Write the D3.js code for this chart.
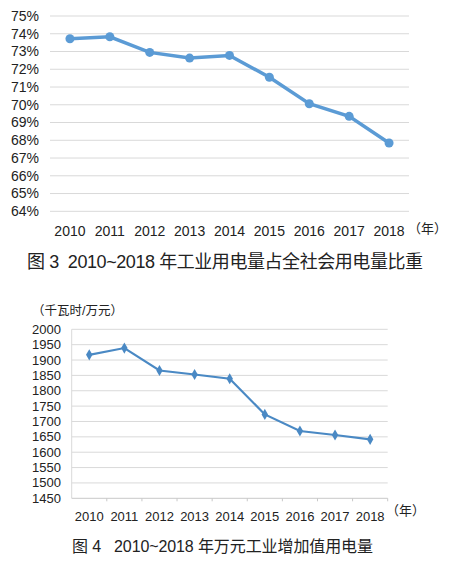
<!DOCTYPE html>
<html>
<head>
<meta charset="utf-8">
<script src="https://cdn.jsdelivr.net/npm/d3@7"></script>
<style>
  body { margin: 0; background: #fff; }
  text { font-family: "Liberation Sans", Arial, "Noto Sans CJK SC", sans-serif; fill: #222; }
  .cjk { font-family: "Liberation Sans", "Noto Sans CJK SC", sans-serif; white-space: pre; }
</style>
</head>
<body>
<svg id="chart" width="465" height="566"></svg>
<script>
// years shared by both charts
var years = ["2010", "2011", "2012", "2013", "2014", "2015", "2016", "2017", "2018"];

// fig 3: industrial share of total electricity use, %
var shareValues = [73.72, 73.83, 72.95, 72.63, 72.78, 71.55, 70.06, 69.35, 67.85];
var shareTicks = [64, 65, 66, 67, 68, 69, 70, 71, 72, 73, 74, 75];

// fig 4: kWh per 10k yuan industrial value added
var intensityValues = [1917, 1939, 1866, 1853, 1839, 1723, 1669, 1656, 1642];
var intensityTicks = [1450, 1500, 1550, 1600, 1650, 1700, 1750, 1800, 1850, 1900, 1950, 2000];

var svg = d3.select("#chart");
var gridColor = "#d9d9d9";

// ---------- chart 1 ----------
var x1 = d3.scaleBand().domain(years).range([50, 409]);
var y1 = d3.scaleLinear().domain([64, 75]).range([211.3, 16]);

var g1 = svg.append("g");

g1.selectAll("line.grid")
    .data(shareTicks)
    .enter().append("line")
    .attr("class", "grid")
    .attr("x1", 50).attr("x2", 409)
    .attr("y1", function(d) { return y1(d); })
    .attr("y2", function(d) { return y1(d); })
    .attr("stroke", gridColor).attr("stroke-width", 1);

g1.selectAll("text.ylab")
    .data(shareTicks)
    .enter().append("text")
    .attr("class", "ylab")
    .attr("x", 39)
    .attr("y", function(d) { return y1(d); })
    .attr("dy", "0.35em")
    .attr("text-anchor", "end")
    .attr("font-size", 14)
    .text(function(d) { return d + "%"; });

g1.selectAll("text.xlab")
    .data(years)
    .enter().append("text")
    .attr("class", "xlab")
    .attr("x", function(d) { return x1(d) + x1.bandwidth() / 2; })
    .attr("y", 231)
    .attr("dy", "0.35em")
    .attr("text-anchor", "middle")
    .attr("font-size", 14)
    .text(function(d) { return d; });

g1.append("text")
    .attr("class", "cjk")
    .attr("x", 408).attr("y", 228).attr("dy", "0.35em")
    .attr("font-size", 13)
    .text("（年）");

var line1 = d3.line()
    .x(function(d, i) { return x1(years[i]) + x1.bandwidth() / 2; })
    .y(function(d) { return y1(d); });

g1.append("path")
    .datum(shareValues)
    .attr("d", line1)
    .attr("fill", "none")
    .attr("stroke", "#5b9bd5")
    .attr("stroke-width", 3.5);

g1.selectAll("circle")
    .data(shareValues)
    .enter().append("circle")
    .attr("cx", function(d, i) { return x1(years[i]) + x1.bandwidth() / 2; })
    .attr("cy", function(d) { return y1(d); })
    .attr("r", 4.5)
    .attr("fill", "#5b9bd5");

g1.append("text")
    .attr("class", "cjk")
    .attr("x", 27).attr("y", 262).attr("dy", "0.35em")
    .attr("font-size", 18)
    .attr("fill", "#333")
    .attr("textLength", 396)
    .attr("lengthAdjust", "spacing")
    .text("图 3  2010~2018 年工业用电量占全社会用电量比重");

// ---------- chart 2 ----------
var x2 = d3.scaleBand().domain(years).range([71.7, 387.7]);
var y2 = d3.scaleLinear().domain([1450, 2000]).range([498.3, 329.3]);

var g2 = svg.append("g");

g2.selectAll("line.grid")
    .data(intensityTicks.slice(1))
    .enter().append("line")
    .attr("class", "grid")
    .attr("x1", 71.7).attr("x2", 387.7)
    .attr("y1", function(d) { return y2(d); })
    .attr("y2", function(d) { return y2(d); })
    .attr("stroke", gridColor).attr("stroke-width", 1);

// axis lines
g2.append("line")
    .attr("x1", 71.7).attr("x2", 71.7)
    .attr("y1", y2(2000)).attr("y2", y2(1450))
    .attr("stroke", gridColor);
g2.append("line")
    .attr("x1", 71.7).attr("x2", 387.7)
    .attr("y1", y2(1450)).attr("y2", y2(1450))
    .attr("stroke", "#c8c8c8");

// tick marks between categories
g2.selectAll("line.tick")
    .data(years)
    .enter().append("line")
    .attr("class", "tick")
    .attr("x1", function(d) { return x2(d) + x2.bandwidth(); })
    .attr("x2", function(d) { return x2(d) + x2.bandwidth(); })
    .attr("y1", y2(1450)).attr("y2", y2(1450) + 3)
    .attr("stroke", "#c8c8c8");

g2.selectAll("text.ylab")
    .data(intensityTicks)
    .enter().append("text")
    .attr("class", "ylab")
    .attr("x", 61)
    .attr("y", function(d) { return y2(d); })
    .attr("dy", "0.35em")
    .attr("text-anchor", "end")
    .attr("font-size", 13)
    .text(function(d) { return d; });

g2.selectAll("text.xlab")
    .data(years)
    .enter().append("text")
    .attr("class", "xlab")
    .attr("x", function(d) { return x2(d) + x2.bandwidth() / 2; })
    .attr("y", 516)
    .attr("dy", "0.35em")
    .attr("text-anchor", "middle")
    .attr("font-size", 13)
    .text(function(d) { return d; });

g2.append("text")
    .attr("class", "cjk")
    .attr("x", 386).attr("y", 510).attr("dy", "0.35em")
    .attr("font-size", 13)
    .text("（年）");

g2.append("text")
    .attr("class", "cjk")
    .attr("x", 32).attr("y", 311).attr("dy", "0.35em")
    .attr("font-size", 12.5)
    .text("（千瓦时/万元）");

var line2 = d3.line()
    .x(function(d, i) { return x2(years[i]) + x2.bandwidth() / 2; })
    .y(function(d) { return y2(d); });

g2.append("path")
    .datum(intensityValues)
    .attr("d", line2)
    .attr("fill", "none")
    .attr("stroke", "#4a89c4")
    .attr("stroke-width", 2.2);

g2.selectAll("path.marker")
    .data(intensityValues)
    .enter().append("path")
    .attr("class", "marker")
    .attr("d", d3.symbol().type(d3.symbolDiamond).size(36))
    .attr("transform", function(d, i) {
        return "translate(" + (x2(years[i]) + x2.bandwidth() / 2) + "," + y2(d) + ")";
    })
    .attr("fill", "#4a89c4");

g2.append("text")
    .attr("class", "cjk")
    .attr("x", 72).attr("y", 546).attr("dy", "0.35em")
    .attr("font-size", 16)
    .attr("fill", "#333")
    .attr("textLength", 301)
    .attr("lengthAdjust", "spacing")
    .text("图 4   2010~2018 年万元工业增加值用电量");
</script>
</body>
</html>
